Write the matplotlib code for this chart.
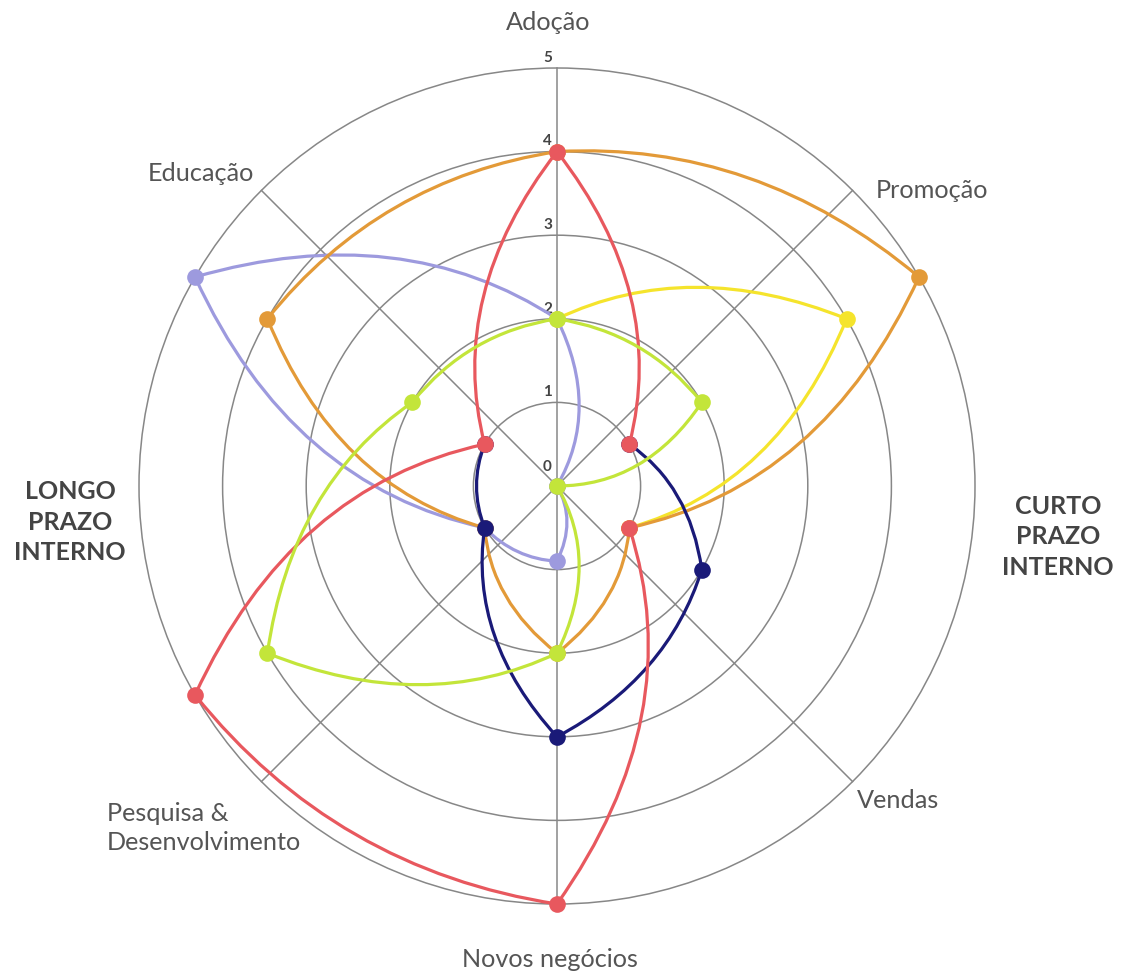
import numpy as np
import matplotlib
matplotlib.use("Agg")
import matplotlib.pyplot as plt
from matplotlib.path import Path
from matplotlib.patches import PathPatch, Circle

plt.rcParams['font.family'] = ['Lato', 'DejaVu Sans']

# eixos do radar (sentido horario a partir do topo)
eixos = ['Adoção', 'Promoção', 'Vendas', 'Novos negócios',
         'Pesquisa &\nDesenvolvimento', 'Educação']
angulos = [0, 60, 120, 180, 240, 300]
escala = [0, 1, 2, 3, 4, 5]

# valores por eixo (None = sem ponto)
lilas = [2, 0, 0, 0.9, 1, 5]
amarelo = [2, 4, 1, None, None, None]
laranja = [4, 5, 1, 2, 1, 4]
azul = [None, 1, 2, 3, 1, 1]
vermelho = [4, 1, 1, 5, 5, 1]
verde = [2, 2, 0, 2, 4, 2]

# ordem em que os pontos sao ligados
ordem_lilas = [0, 1, 2, 3, 4, 5, 0]
ordem_amarelo = [0, 1, 2]
ordem_laranja = [0, 1, 2, 3, 4, 5, 0]
ordem_azul = [1, 2, 3, 4, 5]
ordem_vermelho = [2, 3, 4, 5, 0, 1]
ordem_verde = [0, 1, 2, 3, 4, 5, 0]

series = [
    (lilas, ordem_lilas, '#9d9ade'),
    (amarelo, ordem_amarelo, '#f5e42c'),
    (laranja, ordem_laranja, '#e39a38'),
    (azul, ordem_azul, '#1a1a78'),
    (vermelho, ordem_vermelho, '#e8585e'),
    (verde, ordem_verde, '#c3e53a'),
]

W, H = 1121, 978
cx, cy, unit = 557, 487, 83.6


def px(x, y):
    """pixel da imagem -> coordenadas do grafico"""
    return (x - cx) / unit, (cy - y) / unit


def xy(r, ang):
    a = np.radians(ang)
    return r * np.sin(a), r * np.cos(a)


fig = plt.figure(figsize=(W / 100, H / 100), dpi=100)
ax = fig.add_axes([0, 0, 1, 1])
ax.set_xlim(-cx / unit, (W - cx) / unit)
ax.set_ylim(-(H - cy) / unit, cy / unit)
ax.axis('off')

grid_c = '#878787'
for k in escala[1:]:
    ax.add_patch(Circle((0, 0), k, fill=False, ec=grid_c, lw=1.1, zorder=1))
for a in [0, 45, 135, 180, 225, 315]:
    x1, y1 = xy(escala[-1], a)
    ax.plot([0, x1], [0, y1], color=grid_c, lw=1.1, zorder=1)

for k in escala:
    off = 0.16 if k == 0 else 0.05
    ax.text(-0.06, k + off, str(k), ha='right', va='bottom', fontsize=11,
            fontweight='bold', color='#444444', zorder=2)

z = 3
for vals, ordem, cor in series:
    verts = []
    codes = []
    for n, i in enumerate(ordem):
        p = xy(vals[i], angulos[i])
        if n == 0:
            verts.append(p)
            codes.append(Path.MOVETO)
            continue
        j = ordem[n - 1]
        a0, a1 = angulos[j], angulos[i]
        if a1 < a0:
            a1 += 360
        rc = 1.06 * (vals[j] + vals[i]) / 2
        verts.append(xy(rc, (a0 + a1) / 2))
        verts.append(p)
        codes += [Path.CURVE3, Path.CURVE3]
    ax.add_patch(PathPatch(Path(verts, codes), fill=False, ec=cor, lw=2.3,
                           capstyle='round', joinstyle='round', zorder=z))
    pts = [xy(v, a) for v, a in zip(vals, angulos) if v is not None]
    ax.plot([p[0] for p in pts], [p[1] for p in pts], 'o', ms=12,
            color=cor, mec='none', zorder=z + 0.5)
    z += 1

lab_c = '#555555'
fs = 18.2
pos = [(548, 22, 'center'), (932, 190, 'center'), (898, 800, 'center'),
       (550, 960, 'center'), (107, 828, 'left'), (201, 173, 'center')]
for nome, (x, y, ha) in zip(eixos, pos):
    tx, ty = px(x, y)
    ax.text(tx, ty, nome, ha=ha, va='center', fontsize=fs, color=lab_c,
            linespacing=1.3)

for txt, (x, y) in [('LONGO\nPRAZO\nINTERNO', (70, 522)),
                    ('CURTO\nPRAZO\nINTERNO', (1058, 537))]:
    tx, ty = px(x, y)
    ax.text(tx, ty, txt, ha='center', va='center', fontsize=18,
            fontweight='bold', color='#444444', linespacing=1.38)

fig.savefig('out.png', dpi=100)
